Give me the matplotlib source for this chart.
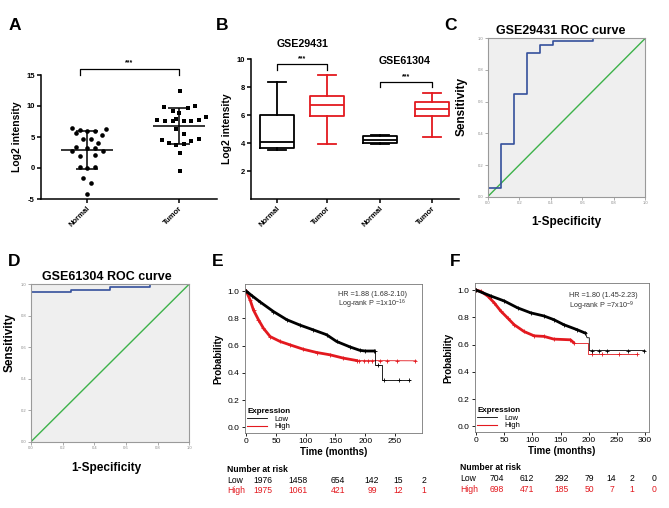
import numpy as np
import matplotlib
matplotlib.use("Agg")
import matplotlib.pyplot as plt
from matplotlib.lines import Line2D

plt.rcParams["font.family"] = ["Liberation Sans", "DejaVu Sans"]
plt.rcParams["axes.unicode_minus"] = False

# ---- data ------------------------------------------------------------------
groups = ["Normal", "Tumor"]
normal_vals = [6.5, 6.13, 5.6, 6.02, 6.02, 6.24, 5.3, 4.6, 4.6, 4.1, 3.4, 3.2,
               3.2, 2.73, 2.73, 1.9, 2.13, 0.19, -0.07, 0.1, -1.6, -2.35, -4.2]
tumor_vals = [12.45, 9.9, 9.27, 9.7, 10.0, 8.8, 7.7, 7.55, 7.55, 7.97, 7.55,
              7.55, 7.8, 8.2, 6.25, 5.55, 4.46, 4.08, 3.65, 3.9, 4.35, 4.73,
              2.4, -0.56]
normal_jitter = [-0.16, -0.076, -0.12, 0, 0.085, 0.2, 0.16, -0.04, 0.043, 0.12,
                 -0.12, 0, 0.085, -0.16, 0.17, -0.08, 0.085, -0.08, 0, 0.085,
                 -0.04, 0.043, 0]
tumor_jitter = [0.01, -0.16, -0.07, 0.09, 0.17, 0, -0.24, -0.15, -0.07, -0.04,
                0.05, 0.13, 0.21, 0.29, -0.04, 0.05, -0.19, -0.11, -0.03, 0.05,
                0.13, 0.21, 0.01, 0.01]

# box stats (whislo, q1, med, q3, whishi) for GSE29431 / GSE61304
box_labels = ["Normal", "Tumor", "Normal", "Tumor"]
box_whislo = [3.5, 3.93, 3.9, 4.4]
box_q1 = [3.66, 5.93, 4.02, 5.9]
box_med = [4.09, 6.71, 4.2, 6.4]
box_q3 = [6.0, 7.38, 4.5, 6.9]
box_whishi = [8.38, 8.84, 4.6, 7.57]

# ROC curves (step vertices)
roc_c_fpr = [0, 0, 0.083, 0.083, 0.167, 0.167, 0.25, 0.25, 0.333, 0.333, 0.417,
             0.417, 0.667, 0.667, 1.0]
roc_c_tpr = [0, 0.055, 0.055, 0.333, 0.333, 0.65, 0.65, 0.91, 0.91, 0.96, 0.96,
             0.98, 0.98, 1.0, 1.0]
roc_d_fpr = [0, 0, 0.25, 0.25, 0.5, 0.5, 0.75, 0.75, 1.0]
roc_d_tpr = [0, 0.95, 0.95, 0.965, 0.965, 0.98, 0.98, 1.0, 1.0]

# Kaplan-Meier curves
e_low_t = [0, 10, 23.5, 45.8, 68.2, 90.6, 113, 135, 152, 174.5, 191, 200, 214,
           217, 217, 229, 229, 275]
e_low_p = [1.0, 0.965, 0.92, 0.85, 0.79, 0.75, 0.715, 0.68, 0.63, 0.59, 0.565,
           0.56, 0.56, 0.56, 0.46, 0.46, 0.35, 0.35]
e_low_cens_t = [217, 221, 232, 257, 274]
e_low_cens_p = [0.56, 0.46, 0.35, 0.35, 0.35]
e_high_t = [0, 6.7, 12.3, 20.6, 29, 40.3, 57, 73.8, 96, 118.6, 141, 163, 185.7,
            286]
e_high_p = [1.0, 0.934, 0.86, 0.79, 0.727, 0.666, 0.63, 0.605, 0.573, 0.549,
            0.532, 0.508, 0.49, 0.488]
e_high_cens_t = [190, 198, 205, 212, 225, 236, 253, 284]

f_low_t = [0, 26.5, 50, 73.5, 97, 120.5, 138, 155.7, 179.4, 194, 197, 201,
           201, 300]
f_low_p = [1.0, 0.956, 0.92, 0.87, 0.833, 0.81, 0.783, 0.746, 0.709, 0.684,
           0.65, 0.65, 0.556, 0.556]
f_low_cens_t = [206, 217.5, 232, 270, 298.6]
f_high_t = [0, 8.8, 20.6, 32.3, 44, 56, 67.5, 85, 103, 120.5, 138, 167.5, 173,
            198, 198, 285]
f_high_p = [1.0, 0.99, 0.956, 0.906, 0.845, 0.795, 0.746, 0.696, 0.664, 0.66,
            0.64, 0.635, 0.615, 0.615, 0.533, 0.533]
f_high_cens_t = [206, 224, 253.5, 286]

e_risk_low = ["1976", "1458", "654", "142", "15", "2"]
e_risk_high = ["1975", "1061", "421", "99", "12", "1"]
f_risk_low = ["704", "612", "292", "79", "14", "2", "0"]
f_risk_high = ["698", "471", "185", "50", "7", "1", "0"]

RED = "#e3191f"
BLUE = "#34509c"
GREEN = "#3db24a"

W, H = 669, 508
fig = plt.figure(figsize=(W / 100, H / 100), dpi=100)


def px_axes(l, t, r, b):
    return fig.add_axes([l / W, 1 - b / H, (r - l) / W, (b - t) / H])


def ftext(x, y, s, **kw):
    fig.text(x / W, 1 - y / H, s, **kw)


def prism_style(ax):
    for s in ("top", "right"):
        ax.spines[s].set_visible(False)
    for s in ("left", "bottom"):
        ax.spines[s].set_linewidth(1.1)
    ax.tick_params(width=1.1, length=3, labelsize=5.5, pad=1.5)
    for lab in ax.get_yticklabels():
        lab.set_fontweight("bold")


# ---- A: scatter with mean +/- SD ------------------------------------------
axA = px_axes(41, 75, 217, 199)
axA.scatter(0 + np.array(normal_jitter), normal_vals, s=11, color="black",
            marker="o", zorder=3, linewidths=0)
axA.scatter(1 + np.array(tumor_jitter), tumor_vals, s=10, color="black",
            marker="s", zorder=3, linewidths=0)
for i, vals in enumerate([normal_vals, tumor_vals]):
    m, sd = np.mean(vals), np.std(vals, ddof=1)
    axA.hlines(m, i - 0.28, i + 0.28, color="black", lw=1.1, zorder=4)
    axA.vlines(i, m - sd, m + sd, color="black", lw=1.1, zorder=4)
    axA.hlines([m - sd, m + sd], i - 0.12, i + 0.12, color="black", lw=1.1,
               zorder=4)
axA.set_xlim(-0.5, 1.41)
axA.set_ylim(-5, 15)
axA.set_yticks([-5, 0, 5, 10, 15])
axA.set_xticks([0, 1])
axA.set_xticklabels(groups, rotation=45, ha="right", rotation_mode="anchor",
                    fontsize=7.3, fontweight="bold")
prism_style(axA)
axA.set_ylabel("Log2 intensity", fontsize=7.5, fontweight="bold", labelpad=3)
axA.plot([-0.08, -0.08, 1, 1], [15.05, 15.97, 15.97, 15.05], color="black",
         lw=0.9, clip_on=False)
axA.text(0.46, 16.4, "***", ha="center", va="bottom", fontsize=5,
         fontweight="bold")

# ---- B: box plots ----------------------------------------------------------
axB = px_axes(251, 59, 459, 199)
positions = [0, 1, 2.06, 3.1]
for i in range(4):
    stats = [dict(whislo=box_whislo[i], q1=box_q1[i], med=box_med[i],
                  q3=box_q3[i], whishi=box_whishi[i])]
    c = "black" if i % 2 == 0 else RED
    lp = dict(color=c, linewidth=1.3)
    axB.bxp(stats, positions=[positions[i]], widths=0.68, capwidths=0.35,
            showfliers=False, boxprops=lp, whiskerprops=lp, capprops=lp,
            medianprops=lp)
axB.set_xlim(-0.52, 3.64)
axB.set_ylim(0, 10)
axB.set_yticks([2, 4, 6, 8, 10])
axB.set_xticks(positions)
axB.set_xticklabels(box_labels, rotation=45, ha="right",
                    rotation_mode="anchor", fontsize=7.3, fontweight="bold")
prism_style(axB)
axB.set_ylabel("Log2 intensity", fontsize=7.5, fontweight="bold", labelpad=3)
axB.plot([0, 0, 1, 1], [9.2, 9.65, 9.65, 9.2], color="black", lw=0.9,
         clip_on=False)
axB.text(0.5, 9.75, "***", ha="center", va="bottom", fontsize=5,
         fontweight="bold")
axB.plot([2.06, 2.06, 3.1, 3.1], [7.98, 8.38, 8.38, 7.98], color="black",
         lw=0.9, clip_on=False)
axB.text(2.58, 8.48, "***", ha="center", va="bottom", fontsize=5,
         fontweight="bold")
axB.text(0.52, 11.07, "GSE29431", ha="center", va="center", fontsize=7.7,
         fontweight="bold")
axB.text(2.56, 9.86, "GSE61304", ha="center", va="center", fontsize=7.7,
         fontweight="bold")


# ---- C / D: ROC curves -----------------------------------------------------
def roc_panel(ax, fpr, tpr, title, title_x, ylab_xy, xlab_xy):
    ax.set_facecolor("#efefef")
    ax.plot([0, 1], [0, 1], color=GREEN, lw=1.0)
    ax.plot(fpr, tpr, color=BLUE, lw=1.2)
    ax.set_xlim(0, 1)
    ax.set_ylim(0, 1)
    ticks = [0, 0.2, 0.4, 0.6, 0.8, 1.0]
    ax.set_xticks(ticks)
    ax.set_yticks(ticks)
    ax.set_xticklabels([f"{t:.1f}" for t in ticks])
    ax.set_yticklabels([f"{t:.1f}" for t in ticks])
    ax.tick_params(labelsize=3, colors="#888888", length=2, width=0.5, pad=1)
    for s in ax.spines.values():
        s.set_color("#9a9a9a")
        s.set_linewidth(0.8)
    ax.set_title(title, fontsize=9, fontweight="bold", x=title_x, pad=3)
    ax.set_ylabel("Sensitivity", fontsize=8.5, fontweight="bold")
    ax.yaxis.set_label_coords(*ylab_xy)
    ax.set_xlabel("1-Specificity", fontsize=8.5, fontweight="bold")
    ax.xaxis.set_label_coords(*xlab_xy)


axC = px_axes(487.7, 38.3, 645.3, 196.7)
roc_panel(axC, roc_c_fpr, roc_c_tpr, "GSE29431 ROC curve", 0.46,
          (-0.13, 0.57), (0.5, -0.12))
axD = px_axes(31, 284, 189.3, 441.7)
roc_panel(axD, roc_d_fpr, roc_d_tpr, "GSE61304 ROC curve", 0.48,
          (-0.10, 0.626), (0.478, -0.127))


# ---- E / F: Kaplan-Meier ---------------------------------------------------
def km_panel(ax, low_t, low_p, low_k, low_ct, low_cp, high_t, high_p, high_k,
             high_ct, high_cp, xmax, xticks, hr, pval, txt_xy):
    for t, p, k, ct, cp, c in [(high_t, high_p, high_k, high_ct, high_cp, RED),
                               (low_t, low_p, low_k, low_ct, low_cp, "black")]:
        ax.plot(t[:k + 1], p[:k + 1], color=c, lw=2.0,
                marker="+", ms=2.5, mew=0.6)
        ax.plot(t[k:], p[k:], color=c, lw=0.6)
        ax.plot(ct, cp, ls="none", marker="+", ms=3, mew=0.6, color=c)
    ax.set_xlim(-2, xmax)
    ax.set_ylim(-0.04, 1.05)
    ax.set_xticks(xticks)
    ax.set_yticks([0, 0.2, 0.4, 0.6, 0.8, 1.0])
    ax.set_yticklabels(["0.0", "0.2", "0.4", "0.6", "0.8", "1.0"])
    ax.tick_params(labelsize=6, length=2.5, width=0.6, pad=1.5)
    for s in ax.spines.values():
        s.set_color("#777777")
        s.set_linewidth(0.6)
    ax.set_xlabel("Time (months)", fontsize=7, fontweight="bold", labelpad=1)
    ax.set_ylabel("Probability", fontsize=7, fontweight="bold", labelpad=3)
    ax.text(txt_xy[0], txt_xy[1], hr, transform=ax.transAxes, fontsize=5.2,
            va="center", color="#333333")
    ax.text(txt_xy[0], txt_xy[1] - 0.068, pval, transform=ax.transAxes,
            fontsize=5.2, va="center", color="#333333")
    handles = [Line2D([], [], color="black", lw=0.6),
               Line2D([], [], color=RED, lw=0.8)]
    ax.legend(handles, ["Low", "High"], title="Expression", loc="lower left",
              frameon=False, fontsize=5.5, alignment="left",
              title_fontproperties={"weight": "bold", "size": 5.8},
              handlelength=2.6, handletextpad=1.0, labelspacing=0.05,
              borderaxespad=0.1, borderpad=0.2)


axE = px_axes(245, 284.3, 421.7, 432.7)
km_panel(axE, e_low_t, e_low_p, 12, e_low_cens_t, e_low_cens_p,
         e_high_t, e_high_p, 12, e_high_cens_t,
         [0.488] * len(e_high_cens_t), 295, [0, 50, 100, 150, 200, 250],
         "HR =1.88 (1.68-2.10)",
         "Log-rank P =1x10$^{\\mathregular{-16}}$", (0.525, 0.93))
axF = px_axes(475, 283.3, 649, 431.7)
km_panel(axF, f_low_t, f_low_p, 9, f_low_cens_t, [0.556] * len(f_low_cens_t),
         f_high_t, f_high_p, 12, f_high_cens_t,
         [0.533] * len(f_high_cens_t), 307,
         [0, 50, 100, 150, 200, 250, 300], "HR =1.80 (1.45-2.23)",
         "Log-rank P =7x10$^{\\mathregular{-9}}$", (0.54, 0.915))

# ---- number at risk tables -------------------------------------------------
e_risk_x = [263, 298, 338, 372, 398, 424]
ftext(227, 470, "Number at risk", fontsize=6.2, fontweight="bold",
      va="center")
ftext(227, 480.7, "Low", fontsize=6.2, va="center")
ftext(227, 490.7, "High", fontsize=6.2, va="center", color=RED)
for x, lo, hi in zip(e_risk_x, e_risk_low, e_risk_high):
    ftext(x, 480.7, lo, fontsize=6.2, va="center", ha="center")
    ftext(x, 490.7, hi, fontsize=6.2, va="center", ha="center", color=RED)

f_risk_x = [496.7, 526.7, 561.7, 589, 611.7, 631.7, 654.3]
ftext(460, 467, "Number at risk", fontsize=6.2, fontweight="bold",
      va="center")
ftext(460, 478.3, "Low", fontsize=6.2, va="center")
ftext(460, 489, "High", fontsize=6.2, va="center", color=RED)
for x, lo, hi in zip(f_risk_x, f_risk_low, f_risk_high):
    ftext(x, 478.3, lo, fontsize=6.2, va="center", ha="center")
    ftext(x, 489, hi, fontsize=6.2, va="center", ha="center", color=RED)

# ---- panel letters ---------------------------------------------------------
for letter, x, y in [("A", 15, 26), ("B", 222, 26), ("C", 450, 26),
                     ("D", 14, 262), ("E", 218, 262), ("F", 455, 262)]:
    ftext(x, y, letter, fontsize=12.5, fontweight="bold", ha="center",
          va="center")

fig.savefig("out.png", dpi=100)
